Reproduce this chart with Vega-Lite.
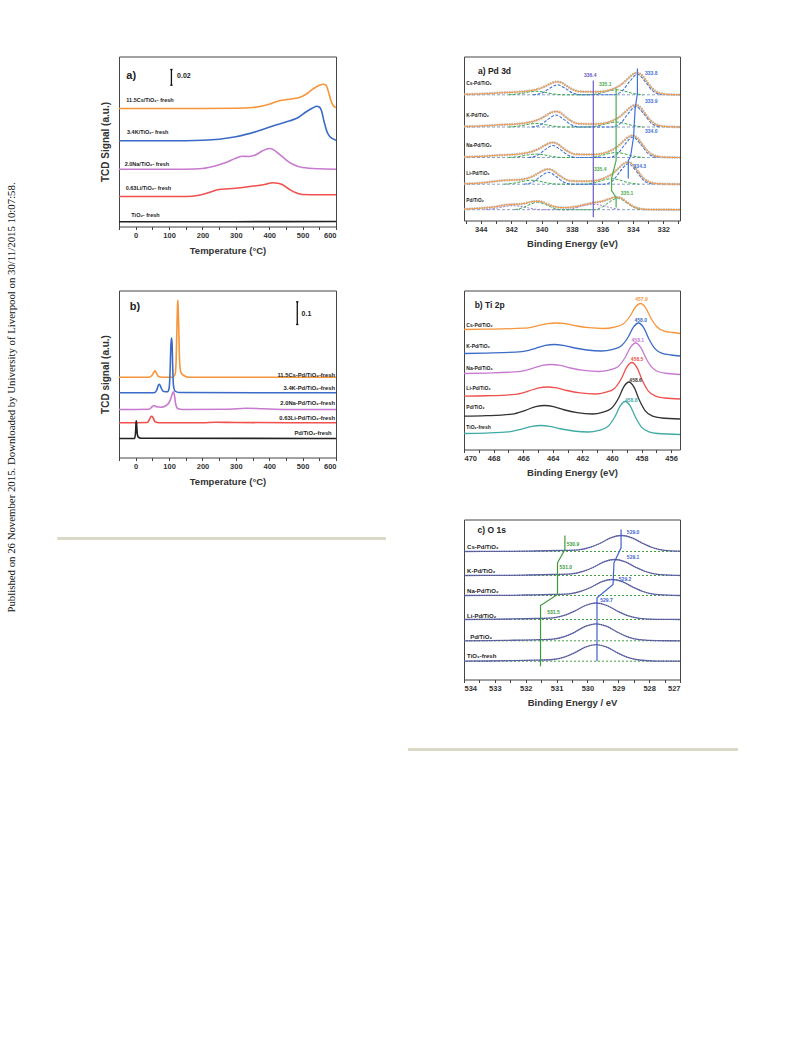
{
"$schema":"https://vega.github.io/schema/vega-lite/v6.json",
"padding":{"left":4.5,"top":55.5,"right":5,"bottom":5},
"config":{"view":{"stroke":null},"font":"Liberation Sans",
"axis":{"labelFont":"Liberation Sans","labelFontWeight":"bold","labelFontSize":7.5,"labelColor":"#333","titleFont":"Liberation Sans","titleFontWeight":"bold","titleFontSize":9.5,"titleColor":"#333","tickColor":"#444","tickSize":3,"domain":false,"grid":false,"labelPadding":2},
"text":{"font":"Liberation Sans","fontWeight":"bold","color":"#222"},
"range":{"category":["#f7953b","#3b6bc6","#c77ad0","#f0504e","#222222","#333333","#40aaa5","#6a5bc4","#4cae4c","#3f6fd8","#3c9a3c","#3f5fd0"]}},
"datasets":{
"tpra":[
{"s":"Cs","x":-50,"y":118},{"s":"Cs","x":0,"y":118},{"s":"Cs","x":100,"y":118},{"s":"Cs","x":200,"y":118},{"s":"Cs","x":300,"y":118.3},{"s":"Cs","x":350,"y":119},{"s":"Cs","x":400,"y":122.3},{"s":"Cs","x":430,"y":125.7},{"s":"Cs","x":460,"y":127.3},{"s":"Cs","x":490,"y":129},{"s":"Cs","x":510,"y":132.3},{"s":"Cs","x":530,"y":137.3},{"s":"Cs","x":550,"y":141.3},{"s":"Cs","x":562,"y":142.3},{"s":"Cs","x":570,"y":141.3},{"s":"Cs","x":578,"y":134},{"s":"Cs","x":585,"y":125.7},{"s":"Cs","x":592,"y":120.7},{"s":"Cs","x":600,"y":119},
{"s":"K","x":-50,"y":85.7},{"s":"K","x":100,"y":85.7},{"s":"K","x":200,"y":86.3},{"s":"K","x":250,"y":87.3},{"s":"K","x":300,"y":89.7},{"s":"K","x":362,"y":95},{"s":"K","x":422,"y":101.7},{"s":"K","x":462,"y":105.7},{"s":"K","x":487,"y":109},{"s":"K","x":512,"y":115},{"s":"K","x":530,"y":118.5},{"s":"K","x":542,"y":120.3},{"s":"K","x":550,"y":119.5},{"s":"K","x":556,"y":116.3},{"s":"K","x":565,"y":104},{"s":"K","x":574,"y":94},{"s":"K","x":582,"y":89.7},{"s":"K","x":600,"y":86.3},
{"s":"Na","x":-50,"y":57.3},{"s":"Na","x":150,"y":57.3},{"s":"Na","x":200,"y":58},{"s":"Na","x":240,"y":60.7},{"s":"Na","x":270,"y":64},{"s":"Na","x":300,"y":68.3},{"s":"Na","x":320,"y":70.3},{"s":"Na","x":340,"y":70},{"s":"Na","x":360,"y":71.7},{"s":"Na","x":380,"y":75.7},{"s":"Na","x":400,"y":78},{"s":"Na","x":410,"y":77.3},{"s":"Na","x":430,"y":72.3},{"s":"Na","x":450,"y":66.7},{"s":"Na","x":470,"y":62.3},{"s":"Na","x":500,"y":59},{"s":"Na","x":550,"y":57.7},{"s":"Na","x":600,"y":57.3},
{"s":"Li","x":-50,"y":30},{"s":"Li","x":150,"y":30},{"s":"Li","x":190,"y":31.3},{"s":"Li","x":220,"y":34},{"s":"Li","x":250,"y":37},{"s":"Li","x":280,"y":37.7},{"s":"Li","x":320,"y":39},{"s":"Li","x":360,"y":40.7},{"s":"Li","x":390,"y":42.3},{"s":"Li","x":410,"y":43.7},{"s":"Li","x":425,"y":43.3},{"s":"Li","x":440,"y":41.7},{"s":"Li","x":460,"y":37.3},{"s":"Li","x":480,"y":33.7},{"s":"Li","x":500,"y":32},{"s":"Li","x":550,"y":31.7},{"s":"Li","x":600,"y":31.7},
{"s":"Ti","x":-50,"y":4.7},{"s":"Ti","x":300,"y":4.8},{"s":"Ti","x":600,"y":5}],
"tpralab":[{"x":-28,"y":127,"t":"11.5Cs/TiO₂- fresh"},{"x":-26,"y":95,"t":"3.4K/TiO₂- fresh"},{"x":-33,"y":63,"t":"2.0Na/TiO₂- fresh"},{"x":-30,"y":39,"t":"0.63Li/TiO₂- fresh"},{"x":-13,"y":11.7,"t":"TiO₂- fresh"}],
"bara":[{"x":107,"x2":107,"y":141.3,"y2":157},{"x":103.5,"x2":110.5,"y":157,"y2":157},{"x":103.5,"x2":110.5,"y":141.3,"y2":141.3}],
"tprb":[
{"s":"Cs","x":-50,"y":80.3},{"s":"Cs","x":40,"y":80.3},{"s":"Cs","x":48,"y":81.7},{"s":"Cs","x":54,"y":85},{"s":"Cs","x":58,"y":86.7},{"s":"Cs","x":62,"y":84.7},{"s":"Cs","x":68,"y":81},{"s":"Cs","x":80,"y":80.3},{"s":"Cs","x":110,"y":80.3},{"s":"Cs","x":118,"y":83},{"s":"Cs","x":121,"y":95.7},{"s":"Cs","x":123,"y":122.3},{"s":"Cs","x":125,"y":149},{"s":"Cs","x":126,"y":157.3},{"s":"Cs","x":127,"y":152.3},{"s":"Cs","x":129,"y":129},{"s":"Cs","x":131,"y":100.7},{"s":"Cs","x":135,"y":85.3},{"s":"Cs","x":145,"y":81.7},{"s":"Cs","x":160,"y":80.3},{"s":"Cs","x":600,"y":80.3},
{"s":"K","x":-50,"y":64.7},{"s":"K","x":55,"y":64.7},{"s":"K","x":63,"y":67.3},{"s":"K","x":68,"y":72.3},{"s":"K","x":71,"y":73.3},{"s":"K","x":75,"y":70.7},{"s":"K","x":82,"y":66.3},{"s":"K","x":95,"y":65.7},{"s":"K","x":100,"y":69},{"s":"K","x":103,"y":85.7},{"s":"K","x":105,"y":108.7},{"s":"K","x":107,"y":119.7},{"s":"K","x":109,"y":114},{"s":"K","x":111,"y":89},{"s":"K","x":113,"y":72.3},{"s":"K","x":118,"y":66.3},{"s":"K","x":130,"y":65},{"s":"K","x":600,"y":64.7},
{"s":"Na","x":-50,"y":48},{"s":"Na","x":40,"y":48.3},{"s":"Na","x":50,"y":51},{"s":"Na","x":55,"y":52},{"s":"Na","x":62,"y":50.7},{"s":"Na","x":75,"y":50.3},{"s":"Na","x":90,"y":51.7},{"s":"Na","x":100,"y":55},{"s":"Na","x":106,"y":59.7},{"s":"Na","x":110,"y":64},{"s":"Na","x":113,"y":65.7},{"s":"Na","x":116,"y":62.3},{"s":"Na","x":120,"y":53},{"s":"Na","x":126,"y":49},{"s":"Na","x":140,"y":48},{"s":"Na","x":280,"y":48.3},{"s":"Na","x":330,"y":49.3},{"s":"Na","x":380,"y":48.7},{"s":"Na","x":450,"y":48},{"s":"Na","x":600,"y":48},
{"s":"Li","x":-50,"y":34.7},{"s":"Li","x":35,"y":35},{"s":"Li","x":41,"y":38},{"s":"Li","x":46,"y":41},{"s":"Li","x":49,"y":41.3},{"s":"Li","x":53,"y":39},{"s":"Li","x":58,"y":35.7},{"s":"Li","x":70,"y":34.7},{"s":"Li","x":200,"y":34.7},{"s":"Li","x":240,"y":35.3},{"s":"Li","x":300,"y":35},{"s":"Li","x":600,"y":34.7},
{"s":"Ti","x":-50,"y":19},{"s":"Ti","x":-3,"y":19},{"s":"Ti","x":0,"y":27.3},{"s":"Ti","x":1,"y":35},{"s":"Ti","x":2,"y":36.7},{"s":"Ti","x":3,"y":32.3},{"s":"Ti","x":5,"y":23},{"s":"Ti","x":8,"y":20.3},{"s":"Ti","x":15,"y":19.3},{"s":"Ti","x":600,"y":19}],
"tprblab":[{"x":597,"y":83,"t":"11.5Cs-Pd/TiO₂-fresh"},{"x":597,"y":70,"t":"3.4K-Pd/TiO₂-fresh"},{"x":597,"y":55,"t":"2.0Na-Pd/TiO₂-fresh"},{"x":597,"y":39.7,"t":"0.63Li-Pd/TiO₂-fresh"},{"x":587,"y":25,"t":"Pd/TiO₂-fresh"}],
"barb":[{"x":484,"x2":484,"y":133,"y2":155.7},{"x":480.5,"x2":487.5,"y":155.7,"y2":155.7},{"x":480.5,"x2":487.5,"y":133,"y2":133}],
"pdbase":[{"s":"Cs","y":125.7,"x":330.9,"x2":345.1},{"s":"K","y":93.5,"x":330.9,"x2":345.1},{"s":"Na","y":63,"x":330.9,"x2":345.1},{"s":"Li","y":36.3,"x":330.9,"x2":345.1},{"s":"Pd","y":10.8,"x":330.9,"x2":345.1}],
"pdfit":[
{"s":"Cs","x":330.9,"y":125.7},{"s":"Cs","x":331.7,"y":126.1},{"s":"Cs","x":332.2,"y":127.2},{"s":"Cs","x":332.7,"y":131.7},{"s":"Cs","x":333.1,"y":139.2},{"s":"Cs","x":333.4,"y":145.2},{"s":"Cs","x":333.7,"y":147.7},{"s":"Cs","x":334.0,"y":146.2},{"s":"Cs","x":334.3,"y":142.2},{"s":"Cs","x":334.7,"y":136.7},{"s":"Cs","x":335.2,"y":132.2},{"s":"Cs","x":335.7,"y":129.7},{"s":"Cs","x":336.3,"y":128.7},{"s":"Cs","x":336.9,"y":128.7},{"s":"Cs","x":337.5,"y":129.0},{"s":"Cs","x":337.96,"y":131.1},{"s":"Cs","x":338.36,"y":134.7},{"s":"Cs","x":338.66,"y":137.7},{"s":"Cs","x":338.96,"y":138.7},{"s":"Cs","x":339.26,"y":137.9},{"s":"Cs","x":339.56,"y":135.8},{"s":"Cs","x":339.96,"y":132.9},{"s":"Cs","x":340.46,"y":130.6},{"s":"Cs","x":340.96,"y":129.4},{"s":"Cs","x":341.7,"y":128.4},{"s":"Cs","x":342.5,"y":127.9},{"s":"Cs","x":343.5,"y":127.0},{"s":"Cs","x":344.2,"y":126.5},{"s":"Cs","x":345.1,"y":126.2},
{"s":"K","x":330.9,"y":93.5},{"s":"K","x":331.8,"y":93.9},{"s":"K","x":332.3,"y":95.0},{"s":"K","x":332.8,"y":99.5},{"s":"K","x":333.2,"y":107.0},{"s":"K","x":333.5,"y":113.0},{"s":"K","x":333.8,"y":115.5},{"s":"K","x":334.1,"y":114.0},{"s":"K","x":334.4,"y":110.0},{"s":"K","x":334.8,"y":104.5},{"s":"K","x":335.3,"y":100.0},{"s":"K","x":335.8,"y":97.5},{"s":"K","x":336.4,"y":96.5},{"s":"K","x":337.0,"y":96.5},{"s":"K","x":337.6,"y":96.8},{"s":"K","x":338.06,"y":99.6},{"s":"K","x":338.46,"y":104.1},{"s":"K","x":338.76,"y":107.7},{"s":"K","x":339.06,"y":109.0},{"s":"K","x":339.36,"y":108.0},{"s":"K","x":339.66,"y":105.4},{"s":"K","x":340.06,"y":101.85},{"s":"K","x":340.56,"y":99.05},{"s":"K","x":341.06,"y":97.5},{"s":"K","x":341.8,"y":96.3},{"s":"K","x":342.6,"y":95.8},{"s":"K","x":343.6,"y":94.8},{"s":"K","x":344.3,"y":94.3},{"s":"K","x":345.1,"y":94.0},
{"s":"Na","x":330.9,"y":63},{"s":"Na","x":332.0,"y":63.4},{"s":"Na","x":332.5,"y":64.5},{"s":"Na","x":333.0,"y":69.0},{"s":"Na","x":333.4,"y":76.5},{"s":"Na","x":333.7,"y":82.5},{"s":"Na","x":334.0,"y":85.0},{"s":"Na","x":334.3,"y":83.5},{"s":"Na","x":334.6,"y":79.5},{"s":"Na","x":335.0,"y":74.0},{"s":"Na","x":335.5,"y":69.5},{"s":"Na","x":336.0,"y":67.0},{"s":"Na","x":336.6,"y":66.0},{"s":"Na","x":337.2,"y":66.0},{"s":"Na","x":337.8,"y":66.3},{"s":"Na","x":338.26,"y":69.0},{"s":"Na","x":338.66,"y":73.25},{"s":"Na","x":338.96,"y":76.75},{"s":"Na","x":339.26,"y":78.0},{"s":"Na","x":339.56,"y":77.0},{"s":"Na","x":339.86,"y":74.5},{"s":"Na","x":340.26,"y":71.1},{"s":"Na","x":340.76,"y":68.4},{"s":"Na","x":341.26,"y":66.9},{"s":"Na","x":342.0,"y":65.8},{"s":"Na","x":342.8,"y":65.3},{"s":"Na","x":343.8,"y":64.3},{"s":"Na","x":344.5,"y":63.8},{"s":"Na","x":345.1,"y":63.5},
{"s":"Li","x":330.9,"y":36.3},{"s":"Li","x":332.3,"y":36.7},{"s":"Li","x":332.8,"y":37.8},{"s":"Li","x":333.3,"y":42.3},{"s":"Li","x":333.7,"y":49.8},{"s":"Li","x":334.0,"y":55.8},{"s":"Li","x":334.3,"y":58.3},{"s":"Li","x":334.6,"y":56.8},{"s":"Li","x":334.9,"y":52.8},{"s":"Li","x":335.3,"y":47.3},{"s":"Li","x":335.8,"y":42.8},{"s":"Li","x":336.3,"y":40.3},{"s":"Li","x":336.9,"y":39.3},{"s":"Li","x":337.5,"y":39.3},{"s":"Li","x":338.1,"y":39.6},{"s":"Li","x":338.56,"y":42.3},{"s":"Li","x":338.96,"y":46.55},{"s":"Li","x":339.26,"y":50.05},{"s":"Li","x":339.56,"y":51.3},{"s":"Li","x":339.86,"y":50.3},{"s":"Li","x":340.16,"y":47.8},{"s":"Li","x":340.56,"y":44.4},{"s":"Li","x":341.06,"y":41.7},{"s":"Li","x":341.56,"y":40.6},{"s":"Li","x":342.3,"y":40.3},{"s":"Li","x":343.0,"y":39.3},{"s":"Li","x":343.8,"y":37.8},{"s":"Li","x":344.5,"y":37.0},{"s":"Li","x":345.1,"y":36.7},
{"s":"Pd","x":330.9,"y":10.8},{"s":"Pd","x":333.0,"y":11.0},{"s":"Pd","x":333.5,"y":11.8},{"s":"Pd","x":334.0,"y":14.3},{"s":"Pd","x":334.4,"y":18.3},{"s":"Pd","x":334.7,"y":21.8},{"s":"Pd","x":335.0,"y":23.3},{"s":"Pd","x":335.3,"y":22.8},{"s":"Pd","x":335.6,"y":21.3},{"s":"Pd","x":336.0,"y":19.3},{"s":"Pd","x":336.6,"y":17.8},{"s":"Pd","x":337.2,"y":15.8},{"s":"Pd","x":337.8,"y":13.8},{"s":"Pd","x":338.5,"y":12.8},{"s":"Pd","x":339.26,"y":14.3},{"s":"Pd","x":339.66,"y":16.6},{"s":"Pd","x":339.96,"y":18.6},{"s":"Pd","x":340.26,"y":19.3},{"s":"Pd","x":340.56,"y":19.0},{"s":"Pd","x":340.86,"y":18.0},{"s":"Pd","x":341.3,"y":16.6},{"s":"Pd","x":341.9,"y":16.1},{"s":"Pd","x":342.5,"y":15.3},{"s":"Pd","x":343.0,"y":13.8},{"s":"Pd","x":344.0,"y":12.3},{"s":"Pd","x":345.1,"y":11.3}],
"pdblue":[
{"s":"Cs","x":332.1,"y":125.7},{"s":"Cs","x":332.7,"y":129.6},{"s":"Cs","x":333.2,"y":139.2},{"s":"Cs","x":333.7,"y":146.2},{"s":"Cs","x":334.2,"y":139.2},{"s":"Cs","x":334.7,"y":129.6},{"s":"Cs","x":335.3,"y":125.7},{"s":"Cs","x":337.36,"y":125.7},{"s":"Cs","x":337.96,"y":127.6},{"s":"Cs","x":338.46,"y":132.3},{"s":"Cs","x":338.96,"y":135.7},{"s":"Cs","x":339.46,"y":132.3},{"s":"Cs","x":339.96,"y":127.6},{"s":"Cs","x":340.56,"y":125.7},
{"s":"K","x":332.2,"y":93.5},{"s":"K","x":332.8,"y":97.4},{"s":"K","x":333.3,"y":107},{"s":"K","x":333.8,"y":114},{"s":"K","x":334.3,"y":107},{"s":"K","x":334.8,"y":97.4},{"s":"K","x":335.4,"y":93.5},{"s":"K","x":337.46,"y":93.5},{"s":"K","x":338.06,"y":95.8},{"s":"K","x":338.56,"y":101.4},{"s":"K","x":339.06,"y":105.5},{"s":"K","x":339.56,"y":101.4},{"s":"K","x":340.06,"y":95.8},{"s":"K","x":340.66,"y":93.5},
{"s":"Na","x":332.4,"y":63},{"s":"Na","x":333.0,"y":66.9},{"s":"Na","x":333.5,"y":76.5},{"s":"Na","x":334.0,"y":83.5},{"s":"Na","x":334.5,"y":76.5},{"s":"Na","x":335.0,"y":66.9},{"s":"Na","x":335.6,"y":63},{"s":"Na","x":337.66,"y":63},{"s":"Na","x":338.26,"y":65.3},{"s":"Na","x":338.76,"y":70.9},{"s":"Na","x":339.26,"y":75},{"s":"Na","x":339.76,"y":70.9},{"s":"Na","x":340.26,"y":65.3},{"s":"Na","x":340.86,"y":63},
{"s":"Li","x":332.7,"y":36.3},{"s":"Li","x":333.3,"y":40.2},{"s":"Li","x":333.8,"y":49.8},{"s":"Li","x":334.3,"y":56.8},{"s":"Li","x":334.8,"y":49.8},{"s":"Li","x":335.3,"y":40.2},{"s":"Li","x":335.9,"y":36.3},{"s":"Li","x":337.96,"y":36.3},{"s":"Li","x":338.56,"y":38.6},{"s":"Li","x":339.06,"y":44.2},{"s":"Li","x":339.56,"y":48.3},{"s":"Li","x":340.06,"y":44.2},{"s":"Li","x":340.56,"y":38.6},{"s":"Li","x":341.16,"y":36.3}],
"pdgreen":[
{"s":"Cs","x":333.3,"y":125.7},{"s":"Cs","x":334.1,"y":127.45},{"s":"Cs","x":334.6,"y":129.6},{"s":"Cs","x":335.1,"y":130.7},{"s":"Cs","x":335.6,"y":129.6},{"s":"Cs","x":336.1,"y":127.45},{"s":"Cs","x":336.9,"y":125.7},{"s":"Cs","x":338.56,"y":125.7},{"s":"Cs","x":339.36,"y":126.9},{"s":"Cs","x":339.86,"y":128.4},{"s":"Cs","x":340.36,"y":129.2},{"s":"Cs","x":340.86,"y":128.4},{"s":"Cs","x":341.36,"y":126.9},{"s":"Cs","x":342.16,"y":125.7},
{"s":"K","x":333.3,"y":93.5},{"s":"K","x":334.1,"y":95.25},{"s":"K","x":334.6,"y":97.4},{"s":"K","x":335.1,"y":98.5},{"s":"K","x":335.6,"y":97.4},{"s":"K","x":336.1,"y":95.25},{"s":"K","x":336.9,"y":93.5},{"s":"K","x":338.56,"y":93.5},{"s":"K","x":339.36,"y":94.7},{"s":"K","x":339.86,"y":96.2},{"s":"K","x":340.36,"y":97.0},{"s":"K","x":340.86,"y":96.2},{"s":"K","x":341.36,"y":94.7},{"s":"K","x":342.16,"y":93.5},
{"s":"Na","x":333.3,"y":63},{"s":"Na","x":334.1,"y":64.75},{"s":"Na","x":334.6,"y":66.9},{"s":"Na","x":335.1,"y":68},{"s":"Na","x":335.6,"y":66.9},{"s":"Na","x":336.1,"y":64.75},{"s":"Na","x":336.9,"y":63},{"s":"Na","x":338.56,"y":63},{"s":"Na","x":339.36,"y":64.2},{"s":"Na","x":339.86,"y":65.7},{"s":"Na","x":340.36,"y":66.5},{"s":"Na","x":340.86,"y":65.7},{"s":"Na","x":341.36,"y":64.2},{"s":"Na","x":342.16,"y":63},
{"s":"Li","x":333.6,"y":36.3},{"s":"Li","x":334.4,"y":38.2},{"s":"Li","x":334.9,"y":40.6},{"s":"Li","x":335.4,"y":41.8},{"s":"Li","x":335.9,"y":40.6},{"s":"Li","x":336.4,"y":38.2},{"s":"Li","x":337.2,"y":36.3},{"s":"Li","x":338.86,"y":36.3},{"s":"Li","x":339.66,"y":37.7},{"s":"Li","x":340.16,"y":39.4},{"s":"Li","x":340.66,"y":40.3},{"s":"Li","x":341.16,"y":39.4},{"s":"Li","x":341.66,"y":37.7},{"s":"Li","x":342.46,"y":36.3},
{"s":"Pd","x":333.5,"y":10.8},{"s":"Pd","x":334.0,"y":13.7},{"s":"Pd","x":334.5,"y":18.85},{"s":"Pd","x":335.0,"y":22.3},{"s":"Pd","x":335.5,"y":18.85},{"s":"Pd","x":336.0,"y":13.7},{"s":"Pd","x":336.5,"y":10.8},{"s":"Pd","x":338.76,"y":10.8},{"s":"Pd","x":339.26,"y":12.7},{"s":"Pd","x":339.76,"y":16.05},{"s":"Pd","x":340.26,"y":18.3},{"s":"Pd","x":340.76,"y":16.05},{"s":"Pd","x":341.26,"y":12.7},{"s":"Pd","x":341.76,"y":10.8}],
"pdpurple":[
{"s":"Pd","x":334.8,"y":10.8},{"s":"Pd","x":335.6,"y":13.3},{"s":"Pd","x":336.1,"y":15.3},{"s":"Pd","x":336.6,"y":16.3},{"s":"Pd","x":337.1,"y":15.3},{"s":"Pd","x":337.6,"y":13.3},{"s":"Pd","x":338.4,"y":10.8},{"s":"Pd","x":340.06,"y":10.8},{"s":"Pd","x":340.86,"y":12.6},{"s":"Pd","x":341.36,"y":14.1},{"s":"Pd","x":341.86,"y":14.8},{"s":"Pd","x":342.36,"y":14.1},{"s":"Pd","x":342.86,"y":12.6},{"s":"Pd","x":343.66,"y":10.8}],
"pdvl":[
{"g":"vp","o":1,"x":336.6,"y":140},{"g":"vp","o":2,"x":336.6,"y":3.3},
{"g":"vg","o":1,"x":335.1,"y":132},{"g":"vg","o":2,"x":335.1,"y":60},{"g":"vg","o":3,"x":335.4,"y":42},{"g":"vg","o":4,"x":335.4,"y":30},{"g":"vg","o":5,"x":335.1,"y":23},{"g":"vg","o":6,"x":335.1,"y":13},
{"g":"vb","o":1,"x":333.7,"y":152},{"g":"vb","o":2,"x":333.7,"y":127},{"g":"vb","o":3,"x":333.85,"y":112},{"g":"vb","o":4,"x":333.95,"y":84},{"g":"vb","o":5,"x":334.15,"y":64},{"g":"vb","o":6,"x":334.3,"y":60},{"g":"vb","o":7,"x":334.3,"y":42}],
"pdval":[{"x":332.79,"y":147.3,"t":"333.8","g":"vb"},{"x":332.79,"y":119.3,"t":"333.9","g":"vb"},{"x":332.79,"y":90,"t":"334.0","g":"vb"},{"x":333.54,"y":55,"t":"334.3","g":"vb"},{"x":335.81,"y":136.7,"t":"335.1","g":"vg"},{"x":336.14,"y":51.7,"t":"335.4","g":"vg"},{"x":334.38,"y":27.7,"t":"335.1","g":"vg"},{"x":336.8,"y":146,"t":"336.4","g":"vp"}],
"pdsamp":[{"x":344.95,"y":136.7,"t":"Cs-Pd/TiO₂"},{"x":344.95,"y":105,"t":"K-Pd/TiO₂"},{"x":344.95,"y":75,"t":"Na-Pd/TiO₂"},{"x":344.95,"y":46.7,"t":"Li-Pd/TiO₂"},{"x":344.95,"y":19.3,"t":"Pd/TiO₂"}],
"ti":[
{"s":"Cs","x":470,"y":120},{"s":"Cs","x":468.5,"y":120.3},{"s":"Cs","x":465.95,"y":121.3},{"s":"Cs","x":465.05,"y":123.6},{"s":"Cs","x":464.35,"y":125.9},{"s":"Cs","x":463.75,"y":126.5},{"s":"Cs","x":463.15,"y":125.9},{"s":"Cs","x":462.45,"y":123.75},{"s":"Cs","x":461.55,"y":121.8},{"s":"Cs","x":460.6,"y":121},{"s":"Cs","x":459.87,"y":122.25},{"s":"Cs","x":459.27,"y":125.25},{"s":"Cs","x":458.77,"y":133.5},{"s":"Cs","x":458.42,"y":142.25},{"s":"Cs","x":458.07,"y":146},{"s":"Cs","x":457.72,"y":141.65},{"s":"Cs","x":457.37,"y":131.5},{"s":"Cs","x":456.97,"y":122.8},{"s":"Cs","x":456.47,"y":118.45},{"s":"Cs","x":455.87,"y":117},{"s":"Cs","x":455.4,"y":116},
{"s":"K","x":470,"y":96},{"s":"K","x":468.5,"y":96.45},{"s":"K","x":466.1,"y":97.8},{"s":"K","x":465.2,"y":100.95},{"s":"K","x":464.5,"y":104.1},{"s":"K","x":463.9,"y":105},{"s":"K","x":463.3,"y":104.1},{"s":"K","x":462.6,"y":101.75},{"s":"K","x":461.7,"y":99.5},{"s":"K","x":460.7,"y":98.5},{"s":"K","x":460.0,"y":99.9},{"s":"K","x":459.4,"y":103.26},{"s":"K","x":458.9,"y":112.5},{"s":"K","x":458.55,"y":122.3},{"s":"K","x":458.2,"y":126.5},{"s":"K","x":457.85,"y":121.7},{"s":"K","x":457.5,"y":110.5},{"s":"K","x":457.1,"y":100.9},{"s":"K","x":456.6,"y":96.1},{"s":"K","x":456.0,"y":94.5},{"s":"K","x":455.4,"y":93.5},
{"s":"Na","x":470,"y":76},{"s":"Na","x":468.5,"y":76.45},{"s":"Na","x":466.3,"y":77.8},{"s":"Na","x":465.4,"y":80.95},{"s":"Na","x":464.7,"y":84.1},{"s":"Na","x":464.1,"y":85},{"s":"Na","x":463.5,"y":84.1},{"s":"Na","x":462.8,"y":81.5},{"s":"Na","x":461.9,"y":79.05},{"s":"Na","x":460.9,"y":78},{"s":"Na","x":460.2,"y":79.43},{"s":"Na","x":459.6,"y":82.85},{"s":"Na","x":459.1,"y":92.25},{"s":"Na","x":458.75,"y":102.2},{"s":"Na","x":458.4,"y":106.5},{"s":"Na","x":458.05,"y":101.9},{"s":"Na","x":457.7,"y":91.25},{"s":"Na","x":457.3,"y":82.1},{"s":"Na","x":456.8,"y":77.5},{"s":"Na","x":456.2,"y":76},{"s":"Na","x":455.4,"y":75},
{"s":"Li","x":470,"y":53.3},{"s":"Li","x":468.5,"y":53.75},{"s":"Li","x":466.55,"y":55.1},{"s":"Li","x":465.65,"y":58.4},{"s":"Li","x":464.95,"y":61.6},{"s":"Li","x":464.35,"y":62.5},{"s":"Li","x":463.75,"y":61.6},{"s":"Li","x":463.05,"y":59},{"s":"Li","x":462.15,"y":56.55},{"s":"Li","x":461.1,"y":55.5},{"s":"Li","x":460.45,"y":57.08},{"s":"Li","x":459.85,"y":60.86},{"s":"Li","x":459.35,"y":71.25},{"s":"Li","x":459.0,"y":82.3},{"s":"Li","x":458.65,"y":87},{"s":"Li","x":458.3,"y":81.7},{"s":"Li","x":457.95,"y":69.25},{"s":"Li","x":457.55,"y":58.6},{"s":"Li","x":457.05,"y":53.28},{"s":"Li","x":456.45,"y":51.5},{"s":"Li","x":455.4,"y":50.5},
{"s":"Pd","x":470,"y":33.3},{"s":"Pd","x":468.5,"y":33.8},{"s":"Pd","x":466.75,"y":35.4},{"s":"Pd","x":465.85,"y":39.2},{"s":"Pd","x":465.15,"y":42.9},{"s":"Pd","x":464.55,"y":44},{"s":"Pd","x":463.95,"y":42.9},{"s":"Pd","x":463.25,"y":39.75},{"s":"Pd","x":462.35,"y":36.78},{"s":"Pd","x":461.3,"y":35.5},{"s":"Pd","x":460.65,"y":37.1},{"s":"Pd","x":460.05,"y":40.94},{"s":"Pd","x":459.55,"y":51.5},{"s":"Pd","x":459.2,"y":62.7},{"s":"Pd","x":458.85,"y":67.5},{"s":"Pd","x":458.5,"y":62.1},{"s":"Pd","x":458.15,"y":49.5},{"s":"Pd","x":457.75,"y":38.7},{"s":"Pd","x":457.25,"y":33.3},{"s":"Pd","x":456.65,"y":31.5},{"s":"Pd","x":455.4,"y":30.5},
{"s":"TiF","x":470,"y":16},{"s":"TiF","x":468.5,"y":16.4},{"s":"TiF","x":467.0,"y":17.6},{"s":"TiF","x":466.1,"y":20.4},{"s":"TiF","x":465.4,"y":23.2},{"s":"TiF","x":464.8,"y":24},{"s":"TiF","x":464.2,"y":23.2},{"s":"TiF","x":463.5,"y":20.75},{"s":"TiF","x":462.6,"y":18.48},{"s":"TiF","x":461.6,"y":17.5},{"s":"TiF","x":460.9,"y":19.03},{"s":"TiF","x":460.3,"y":22.69},{"s":"TiF","x":459.8,"y":32.75},{"s":"TiF","x":459.45,"y":43.4},{"s":"TiF","x":459.1,"y":48},{"s":"TiF","x":458.75,"y":43.2},{"s":"TiF","x":458.4,"y":32},{"s":"TiF","x":458.0,"y":22.4},{"s":"TiF","x":457.5,"y":17.6},{"s":"TiF","x":456.9,"y":16},{"s":"TiF","x":455.4,"y":15}],
"tival":[{"s":"Cs","x":458.0,"y":151,"t":"457.9"},{"s":"K","x":458.05,"y":130,"t":"458.0"},{"s":"Na","x":458.25,"y":110,"t":"458.1"},{"s":"Li","x":458.3,"y":90.7,"t":"458.5"},{"s":"Pd","x":458.4,"y":70,"t":"458.6"},{"s":"TiF","x":458.7,"y":50,"t":"458.8"}],
"tisamp":[{"x":469.84,"y":125,"t":"Cs-Pd/TiO₂"},{"x":469.84,"y":104,"t":"K-Pd/TiO₂"},{"x":469.84,"y":81.7,"t":"Na-Pd/TiO₂"},{"x":469.84,"y":61.7,"t":"Li-Pd/TiO₂"},{"x":469.84,"y":42.7,"t":"Pd/TiO₂"},{"x":469.84,"y":22.7,"t":"TiO₂-fresh"}],
"obase":[{"y":128,"x":527,"x2":534},{"y":104,"x":527,"x2":534},{"y":84,"x":527,"x2":534},{"y":60,"x":527,"x2":534},{"y":38.7,"x":527,"x2":534},{"y":18.3,"x":527,"x2":534}],
"ofit":[
{"s":"Cs","x":534,"y":128},{"s":"Cs","x":532.5,"y":128.2},{"s":"Cs","x":531.7,"y":128.5},{"s":"Cs","x":530.9,"y":129},{"s":"Cs","x":530.3,"y":129.6},{"s":"Cs","x":529.9,"y":132.3},{"s":"Cs","x":529.6,"y":136},{"s":"Cs","x":529.25,"y":141.6},{"s":"Cs","x":528.9,"y":144},{"s":"Cs","x":528.55,"y":141.6},{"s":"Cs","x":528.2,"y":136},{"s":"Cs","x":527.9,"y":132},{"s":"Cs","x":527.5,"y":129.1},{"s":"Cs","x":527,"y":128.3},
{"s":"K","x":534,"y":104},{"s":"K","x":532.5,"y":104.2},{"s":"K","x":531.92,"y":104.5},{"s":"K","x":531.12,"y":105},{"s":"K","x":530.52,"y":105.6},{"s":"K","x":530.12,"y":108.3},{"s":"K","x":529.82,"y":112},{"s":"K","x":529.47,"y":117.6},{"s":"K","x":529.12,"y":120},{"s":"K","x":528.77,"y":117.6},{"s":"K","x":528.42,"y":112},{"s":"K","x":528.12,"y":108},{"s":"K","x":527.72,"y":105.1},{"s":"K","x":527.12,"y":104.1},{"s":"K","x":527,"y":104},
{"s":"Na","x":534,"y":84},{"s":"Na","x":532.5,"y":84.2},{"s":"Na","x":532.0,"y":84.5},{"s":"Na","x":531.2,"y":85},{"s":"Na","x":530.6,"y":85.6},{"s":"Na","x":530.2,"y":88.3},{"s":"Na","x":529.9,"y":92},{"s":"Na","x":529.55,"y":97.6},{"s":"Na","x":529.2,"y":100},{"s":"Na","x":528.85,"y":97.6},{"s":"Na","x":528.5,"y":92},{"s":"Na","x":528.2,"y":88},{"s":"Na","x":527.8,"y":85.1},{"s":"Na","x":527.2,"y":84.1},{"s":"Na","x":527,"y":84},
{"s":"Li","x":534,"y":60},{"s":"Li","x":533.3,"y":60.2},{"s":"Li","x":532.52,"y":60.5},{"s":"Li","x":531.72,"y":61},{"s":"Li","x":531.12,"y":61.7},{"s":"Li","x":530.72,"y":64.4},{"s":"Li","x":530.42,"y":68.3},{"s":"Li","x":530.07,"y":74},{"s":"Li","x":529.72,"y":76.5},{"s":"Li","x":529.37,"y":74},{"s":"Li","x":529.02,"y":68.25},{"s":"Li","x":528.72,"y":64.1},{"s":"Li","x":528.32,"y":61.2},{"s":"Li","x":527.72,"y":60.1},{"s":"Li","x":527,"y":60},
{"s":"Pd","x":534,"y":38.7},{"s":"Pd","x":533.3,"y":38.9},{"s":"Pd","x":532.52,"y":39.2},{"s":"Pd","x":531.72,"y":39.7},{"s":"Pd","x":531.12,"y":40.4},{"s":"Pd","x":530.72,"y":43.2},{"s":"Pd","x":530.42,"y":47.2},{"s":"Pd","x":530.07,"y":53.15},{"s":"Pd","x":529.72,"y":55.7},{"s":"Pd","x":529.37,"y":53.15},{"s":"Pd","x":529.02,"y":47.2},{"s":"Pd","x":528.72,"y":42.95},{"s":"Pd","x":528.32,"y":39.9},{"s":"Pd","x":527.72,"y":38.8},{"s":"Pd","x":527,"y":38.7},
{"s":"Ti","x":534,"y":18.3},{"s":"Ti","x":533.3,"y":18.5},{"s":"Ti","x":532.52,"y":18.8},{"s":"Ti","x":531.72,"y":19.3},{"s":"Ti","x":531.12,"y":20},{"s":"Ti","x":530.72,"y":22.7},{"s":"Ti","x":530.42,"y":26.6},{"s":"Ti","x":530.07,"y":32.3},{"s":"Ti","x":529.72,"y":34.8},{"s":"Ti","x":529.37,"y":32.3},{"s":"Ti","x":529.02,"y":26.55},{"s":"Ti","x":528.72,"y":22.4},{"s":"Ti","x":528.32,"y":19.5},{"s":"Ti","x":527.72,"y":18.4},{"s":"Ti","x":527,"y":18.3}],
"ovl":[
{"g":"og","o":1,"x":530.73,"y":144},{"g":"og","o":2,"x":530.73,"y":130},{"g":"og","o":3,"x":530.97,"y":116.7},{"g":"og","o":4,"x":530.97,"y":85},{"g":"og","o":5,"x":531.52,"y":74},{"g":"og","o":6,"x":531.52,"y":13.3},
{"g":"ob","o":1,"x":528.91,"y":150},{"g":"ob","o":2,"x":528.91,"y":131.7},{"g":"ob","o":3,"x":529.14,"y":116.7},{"g":"ob","o":4,"x":529.17,"y":95},{"g":"ob","o":5,"x":529.69,"y":81.7},{"g":"ob","o":6,"x":529.69,"y":18.3}],
"oval":[{"g":"ob","x":528.52,"y":147.3,"t":"529.0"},{"g":"ob","x":528.52,"y":122.7,"t":"529.1"},{"g":"ob","x":528.78,"y":100.7,"t":"529.2"},{"g":"ob","x":529.38,"y":80,"t":"529.7"},{"g":"og","x":530.47,"y":136,"t":"530.9"},{"g":"og","x":530.7,"y":112.7,"t":"531.0"},{"g":"og","x":531.1,"y":67.3,"t":"531.5"}],
"osamp":[{"x":533.9,"y":132.7,"t":"Cs-Pd/TiO₂"},{"x":533.9,"y":108.3,"t":"K-Pd/TiO₂"},{"x":533.9,"y":88.3,"t":"Na-Pd/TiO₂"},{"x":533.9,"y":64,"t":"Li-Pd/TiO₂"},{"x":533.8,"y":42.7,"t":"Pd/TiO₂"},{"x":533.9,"y":23.3,"t":"TiO₂-fresh"}]
},
"spacing":38.5,
"hconcat":[
{"width":10,"height":682,"data":{"values":[{"t":"Published on 26 November 2015. Downloaded by University of Liverpool on 30/11/2015 10:07:58."}]},
 "mark":{"type":"text","angle":270,"font":"Liberation Serif","fontWeight":"normal","fontSize":10.8,"align":"center","baseline":"middle","color":"#111"},
 "encoding":{"text":{"field":"t"}}},
{"spacing":18,"hconcat":[
 {"spacing":64,"bounds":"flush","vconcat":[
  {"width":217,"height":170,"view":{"stroke":"#444","strokeWidth":1},
   "encoding":{
    "x":{"field":"x","type":"quantitative","scale":{"domain":[-50,600],"nice":false,"zero":false},"axis":{"title":"Temperature (°C)","values":[-50,0,50,100,150,200,250,300,350,400,450,500,550,600],"labelExpr":"datum.value % 100 === 0 ? datum.label : ''","titlePadding":6}},
    "y":{"field":"y","type":"quantitative","scale":{"domain":[0,170],"nice":false,"zero":false},"axis":{"title":"TCD Signal (a.u.)","labels":false,"ticks":false,"titlePadding":9,"titleFontSize":10}}},
   "layer":[
    {"data":{"name":"tpra"},"mark":{"type":"line","strokeWidth":1.6,"interpolate":"monotone"},"encoding":{"color":{"field":"s","type":"nominal","scale":{"domain":["Cs","K","Na","Li","Ti","Pd","TiF","vp","vg","vb","og","ob"]},"legend":null}}},
    {"data":{"name":"tpralab"},"mark":{"type":"text","align":"left","baseline":"middle","fontSize":5.5},"encoding":{"text":{"field":"t"}}},
    {"data":{"values":[{"x":-28,"y":151,"t":"a)"}]},"mark":{"type":"text","align":"left","baseline":"middle","fontSize":11},"encoding":{"text":{"field":"t"}}},
    {"data":{"name":"bara"},"mark":{"type":"rule","strokeWidth":1.3,"color":"#111"},"encoding":{"x2":{"field":"x2"},"y2":{"field":"y2"}}},
    {"data":{"values":[{"x":124,"y":150.5,"t":"0.02"}]},"mark":{"type":"text","align":"left","baseline":"middle","fontSize":7},"encoding":{"text":{"field":"t"}}}
   ]},
  {"width":217,"height":167,"view":{"stroke":"#444","strokeWidth":1},
   "encoding":{
    "x":{"field":"x","type":"quantitative","scale":{"domain":[-50,600],"nice":false,"zero":false},"axis":{"title":"Temperature (°C)","values":[-50,0,50,100,150,200,250,300,350,400,450,500,550,600],"labelExpr":"datum.value % 100 === 0 ? datum.label : ''","titlePadding":6}},
    "y":{"field":"y","type":"quantitative","scale":{"domain":[0,167],"nice":false,"zero":false},"axis":{"title":"TCD signal (a.u.)","labels":false,"ticks":false,"titlePadding":9,"titleFontSize":10}}},
   "layer":[
    {"data":{"name":"tprb"},"mark":{"type":"line","strokeWidth":1.6,"interpolate":"monotone"},"encoding":{"color":{"field":"s","type":"nominal","scale":{"domain":["Cs","K","Na","Li","Ti","Pd","TiF","vp","vg","vb","og","ob"]},"legend":null}}},
    {"data":{"name":"tprblab"},"mark":{"type":"text","align":"right","baseline":"middle","fontSize":5.8},"encoding":{"text":{"field":"t"}}},
    {"data":{"values":[{"x":-18,"y":150.7,"t":"b)"}]},"mark":{"type":"text","align":"left","baseline":"middle","fontSize":11},"encoding":{"text":{"field":"t"}}},
    {"data":{"name":"barb"},"mark":{"type":"rule","strokeWidth":1.3,"color":"#111"},"encoding":{"x2":{"field":"x2"},"y2":{"field":"y2"}}},
    {"data":{"values":[{"x":497,"y":144,"t":"0.1"}]},"mark":{"type":"text","align":"left","baseline":"middle","fontSize":7},"encoding":{"text":{"field":"t"}}}
   ]},
  {"width":217,"height":17,"data":{"values":[{"a":0,"b":100,"y":0}]},"mark":{"type":"rule","color":"#dcd8c6","strokeWidth":3},
   "encoding":{"x":{"field":"a","type":"quantitative","scale":{"domain":[18.8,84.8],"nice":false,"zero":false},"axis":null},"x2":{"field":"b"},"y":{"field":"y","type":"quantitative","scale":{"domain":[0,1]},"axis":null}}}
 ]},
 {"spacing":70,"bounds":"flush","vconcat":[
  {"width":216,"height":164,"view":{"stroke":"#444","strokeWidth":1},
   "encoding":{
    "x":{"field":"x","type":"quantitative","scale":{"domain":[330.9,345.1],"reverse":true,"nice":false,"zero":false},"axis":{"title":"Binding Energy (eV)","values":[331,332,333,334,335,336,337,338,339,340,341,342,343,344,345],"labelExpr":"datum.value % 2 === 0 ? datum.label : ''","titlePadding":5}},
    "y":{"field":"y","type":"quantitative","scale":{"domain":[0,164],"nice":false,"zero":false},"axis":null}},
   "layer":[
    {"data":{"name":"pdbase"},"mark":{"type":"rule","color":"#6b86c0","strokeWidth":0.8,"strokeDash":[3,2]},"encoding":{"x2":{"field":"x2"}}},
    {"data":{"name":"pdpurple"},"mark":{"type":"line","color":"#9b7fd0","strokeWidth":1,"strokeDash":[2,1.5],"interpolate":"monotone"},"encoding":{"detail":{"field":"s"}}},
    {"data":{"name":"pdgreen"},"mark":{"type":"line","color":"#3aa84a","strokeWidth":1,"strokeDash":[3,1.5],"interpolate":"monotone"},"encoding":{"detail":{"field":"s"}}},
    {"data":{"name":"pdblue"},"mark":{"type":"line","color":"#3d6fd4","strokeWidth":1.1,"strokeDash":[3,1.5],"interpolate":"monotone"},"encoding":{"detail":{"field":"s"}}},
    {"data":{"name":"pdfit"},"mark":{"type":"line","color":"#a8a8a8","strokeWidth":2.6,"strokeDash":[1.5,1],"opacity":0.8,"interpolate":"monotone"},"encoding":{"detail":{"field":"s"}}},
    {"data":{"name":"pdfit"},"mark":{"type":"line","color":"#f39a4a","strokeWidth":1,"interpolate":"monotone"},"encoding":{"detail":{"field":"s"}}},
    {"data":{"name":"pdvl"},"mark":{"type":"line","strokeWidth":1.2},"encoding":{"color":{"field":"g","type":"nominal","scale":{"domain":["Cs","K","Na","Li","Ti","Pd","TiF","vp","vg","vb","og","ob"]},"legend":null},"order":{"field":"o","type":"quantitative"}}},
    {"data":{"name":"pdval"},"mark":{"type":"text","align":"center","baseline":"middle","fontSize":5},"encoding":{"text":{"field":"t"},"color":{"field":"g","type":"nominal","scale":{"domain":["Cs","K","Na","Li","Ti","Pd","TiF","vp","vg","vb","og","ob"]},"legend":null}}},
    {"data":{"name":"pdsamp"},"mark":{"type":"text","align":"left","baseline":"middle","fontSize":4.8},"encoding":{"text":{"field":"t"}}},
    {"data":{"values":[{"x":344.18,"y":150,"t":"a) Pd 3d"}]},"mark":{"type":"text","align":"left","baseline":"middle","fontSize":8.5},"encoding":{"text":{"field":"t"}}}
   ]},
  {"width":216,"height":159,"view":{"stroke":"#444","strokeWidth":1},
   "encoding":{
    "x":{"field":"x","type":"quantitative","scale":{"domain":[455.4,470],"reverse":true,"nice":false,"zero":false},"axis":{"title":"Binding Energy (eV)","values":[456,457,458,459,460,461,462,463,464,465,466,467,468,469,470],"labelExpr":"datum.value % 2 === 0 ? datum.label : ''","titlePadding":5}},
    "y":{"field":"y","type":"quantitative","scale":{"domain":[0,159],"nice":false,"zero":false},"axis":null}},
   "layer":[
    {"data":{"name":"ti"},"mark":{"type":"line","strokeWidth":1.3,"interpolate":"monotone"},"encoding":{"color":{"field":"s","type":"nominal","scale":{"domain":["Cs","K","Na","Li","Ti","Pd","TiF","vp","vg","vb","og","ob"]},"legend":null}}},
    {"data":{"name":"tival"},"mark":{"type":"text","align":"center","baseline":"middle","fontSize":5},"encoding":{"text":{"field":"t"},"color":{"field":"s","type":"nominal","scale":{"domain":["Cs","K","Na","Li","Ti","Pd","TiF","vp","vg","vb","og","ob"]},"legend":null}}},
    {"data":{"name":"tisamp"},"mark":{"type":"text","align":"left","baseline":"middle","fontSize":5},"encoding":{"text":{"field":"t"}}},
    {"data":{"values":[{"x":469.28,"y":145,"t":"b) Ti 2p"}]},"mark":{"type":"text","align":"left","baseline":"middle","fontSize":8.5},"encoding":{"text":{"field":"t"}}}
   ]},
  {"width":216,"height":160,"view":{"stroke":"#444","strokeWidth":1},
   "encoding":{
    "x":{"field":"x","type":"quantitative","scale":{"domain":[527,534],"reverse":true,"nice":false,"zero":false},"axis":{"title":"Binding Energy / eV","values":[527,527.5,528,528.5,529,529.5,530,530.5,531,531.5,532,532.5,533,533.5,534],"format":".0f","labelExpr":"datum.value % 1 === 0 ? datum.label : ''","titlePadding":5}},
    "y":{"field":"y","type":"quantitative","scale":{"domain":[0,160],"nice":false,"zero":false},"axis":null}},
   "layer":[
    {"data":{"name":"obase"},"mark":{"type":"rule","color":"#44a044","strokeWidth":1,"strokeDash":[2,2]},"encoding":{"x2":{"field":"x2"}}},
    {"data":{"name":"ofit"},"mark":{"type":"line","color":"#6a70c0","strokeWidth":1.3,"interpolate":"monotone"},"encoding":{"detail":{"field":"s"}}},
    {"data":{"name":"ofit"},"mark":{"type":"line","color":"#444","strokeWidth":0.8,"strokeDash":[1,1.5],"interpolate":"monotone"},"encoding":{"detail":{"field":"s"}}},
    {"data":{"name":"ovl"},"mark":{"type":"line","strokeWidth":1.2},"encoding":{"color":{"field":"g","type":"nominal","scale":{"domain":["Cs","K","Na","Li","Ti","Pd","TiF","vp","vg","vb","og","ob"]},"legend":null},"order":{"field":"o","type":"quantitative"}}},
    {"data":{"name":"oval"},"mark":{"type":"text","align":"center","baseline":"middle","fontSize":5},"encoding":{"text":{"field":"t"},"color":{"field":"g","type":"nominal","scale":{"domain":["Cs","K","Na","Li","Ti","Pd","TiF","vp","vg","vb","og","ob"]},"legend":null}}},
    {"data":{"name":"osamp"},"mark":{"type":"text","align":"left","baseline":"middle","fontSize":6},"encoding":{"text":{"field":"t"}}},
    {"data":{"values":[{"x":533.56,"y":150,"t":"c) O 1s"}]},"mark":{"type":"text","align":"left","baseline":"middle","fontSize":8.5},"encoding":{"text":{"field":"t"}}}
   ]},
  {"width":216,"height":1,"data":{"values":[{"a":0,"b":100,"y":1}]},"mark":{"type":"rule","color":"#dcd8c6","strokeWidth":3},
   "encoding":{"x":{"field":"a","type":"quantitative","scale":{"domain":[16.97,82.4],"nice":false,"zero":false},"axis":null},"x2":{"field":"b"},"y":{"field":"y","type":"quantitative","scale":{"domain":[0,1]},"axis":null}}}
 ]}
]}
]
}
